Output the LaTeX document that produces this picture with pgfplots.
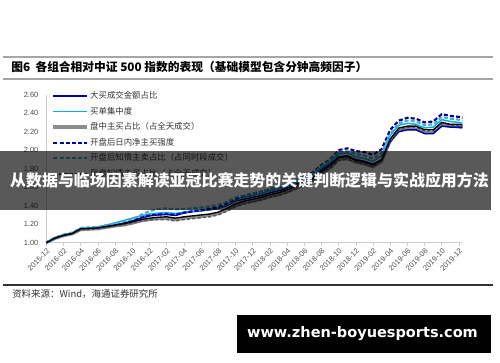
\documentclass[border=0pt]{standalone}
\usepackage{fontspec}
\setmainfont{Liberation Sans}
\newfontfamily\cjk{Noto Sans CJK SC}
\usepackage{pgfplots}
\usepackage{pgfplotstable}
\pgfplotsset{compat=1.18}
\definecolor{navy}{RGB}{0,0,160}
\definecolor{cyanl}{RGB}{0,176,240}
\definecolor{grayt}{RGB}{140,140,140}
\definecolor{teal2}{RGB}{75,172,198}
\definecolor{grayd}{RGB}{89,89,89}
\pgfplotstableread{
m B N C G D T K
0 1.00 1.00 1.00 1.00 1.00 1.00 1.00
1 1.05 1.05 1.055 1.045 1.055 1.055 1.045
2 1.08 1.08 1.085 1.075 1.085 1.085 1.075
3 1.10 1.10 1.105 1.095 1.105 1.11 1.095
4 1.15 1.15 1.155 1.14 1.155 1.16 1.14
5 1.155 1.155 1.16 1.145 1.16 1.165 1.145
6 1.16 1.16 1.17 1.15 1.165 1.17 1.15
7 1.175 1.175 1.19 1.165 1.18 1.19 1.165
8 1.19 1.19 1.215 1.18 1.195 1.21 1.18
9 1.205 1.21 1.24 1.19 1.215 1.23 1.19
10 1.225 1.235 1.265 1.21 1.24 1.255 1.21
11 1.25 1.265 1.29 1.235 1.27 1.30 1.235
12 1.265 1.29 1.31 1.25 1.295 1.34 1.245
13 1.275 1.30 1.32 1.26 1.305 1.365 1.25
14 1.28 1.305 1.325 1.265 1.31 1.37 1.25
15 1.265 1.295 1.315 1.25 1.30 1.36 1.235
16 1.28 1.32 1.33 1.265 1.325 1.365 1.25
17 1.29 1.335 1.34 1.275 1.34 1.37 1.26
18 1.30 1.345 1.35 1.285 1.35 1.38 1.27
19 1.31 1.355 1.36 1.295 1.365 1.39 1.28
20 1.33 1.37 1.375 1.315 1.385 1.41 1.30
21 1.37 1.40 1.41 1.355 1.425 1.44 1.34
22 1.42 1.45 1.46 1.40 1.475 1.49 1.39
23 1.45 1.47 1.49 1.43 1.505 1.51 1.42
24 1.47 1.49 1.51 1.45 1.53 1.53 1.44
25 1.49 1.51 1.53 1.47 1.55 1.55 1.46
26 1.52 1.54 1.56 1.50 1.58 1.58 1.49
27 1.54 1.56 1.58 1.52 1.60 1.60 1.51
28 1.57 1.59 1.61 1.55 1.63 1.63 1.54
29 1.61 1.63 1.65 1.59 1.675 1.67 1.58
30 1.65 1.67 1.69 1.63 1.715 1.71 1.62
31 1.69 1.71 1.73 1.67 1.76 1.75 1.66
32 1.77 1.79 1.81 1.75 1.84 1.83 1.74
33 1.83 1.85 1.87 1.81 1.90 1.89 1.80
34 1.92 1.93 1.96 1.90 2.00 1.98 1.89
35 1.93 1.94 1.97 1.91 2.02 1.99 1.90
36 1.89 1.90 1.93 1.87 1.99 1.96 1.87
37 1.87 1.88 1.91 1.85 1.98 1.94 1.85
38 1.84 1.85 1.88 1.82 1.95 1.91 1.82
39 1.90 1.89 1.94 1.88 2.01 1.97 1.88
40 2.12 2.09 2.16 2.10 2.22 2.18 2.10
41 2.24 2.20 2.27 2.22 2.32 2.29 2.22
42 2.26 2.22 2.29 2.24 2.35 2.32 2.25
43 2.26 2.22 2.28 2.23 2.34 2.31 2.25
44 2.22 2.18 2.24 2.19 2.30 2.27 2.21
45 2.22 2.18 2.25 2.19 2.31 2.28 2.21
46 2.30 2.26 2.33 2.27 2.39 2.36 2.29
47 2.28 2.25 2.31 2.26 2.37 2.34 2.27
48 2.28 2.25 2.30 2.25 2.36 2.33 2.27
48.4 2.27 2.25 2.29 2.24 2.35 2.32 2.26
}\datatable
\begin{document}
\begin{tikzpicture}[x=0.75pt,y=0.75pt]
\useasboundingbox (0,0) rectangle (500,362);
\fill[white] (0,0) rectangle (500,362);
% title rules
\draw[gray!70, line width=0.9pt] (3,305) -- (493,305);
\draw[gray!70, line width=0.9pt] (3,283) -- (493,283);
\node[anchor=west, inner sep=0pt, font=\cjk\bfseries\fontsize{8.8}{10}\selectfont] at (11,294.5) {图6\ \ 各组合相对中证 500 指数的表现（基础模型包含分钟高频因子）};
\begin{axis}[
  at={(54,129)}, anchor=south west,
  scale only axis, width=312pt, height=111pt,
  xmin=0, xmax=48.4, ymin=1.0, ymax=2.6,
  axis x line*=bottom, axis y line*=left,
  axis line style={gray!40, line width=0.6pt},
  ytick={1.0,1.2,1.4,1.6,1.8,2.0,2.2,2.4,2.6},
  y tick label style={/pgf/number format/fixed, /pgf/number format/fixed zerofill, /pgf/number format/precision=2, font=\fontsize{5.6}{6}\selectfont, color=black!70},
  ytick style={draw=none},
  xtick={0,2,...,48},
  xticklabels={2015-12,2016-02,2016-04,2016-06,2016-08,2016-10,2016-12,2017-02,2017-04,2017-06,2017-08,2017-10,2017-12,2018-02,2018-04,2018-06,2018-08,2018-10,2018-12,2019-02,2019-04,2019-06,2019-08,2019-10,2019-12},
  x tick label style={rotate=45, anchor=north east, font=\fontsize{5.6}{6}\selectfont, color=black!70, inner sep=1pt},
  xtick style={gray!40, line width=0.5pt},
  tick align=outside, major tick length=2.5pt,
  /pgf/number format/assume math mode=true,
  legend style={at={(axis description cs:0.012,1.03)}, anchor=north west, draw=none, fill=none,
    font=\cjk\fontsize{6.3}{7}\selectfont, text=black!80, row sep=3.2pt, inner sep=0pt,
    nodes={inner sep=0.8pt}},
  legend cell align=left,
  legend image code/.code={\draw[#1] (0pt,0pt) -- (25.5pt,0pt);},
  clip=false,
]
\addplot[grayt, line width=2.2pt, forget plot] table[x=m, y=G] {\datatable};
\addplot[navy, line width=1.1pt] table[x=m, y=N] {\datatable};
\addlegendentry{大买成交金额占比}
\addplot[cyanl, line width=1.1pt] table[x=m, y=C] {\datatable};
\addlegendentry{买单集中度}
\addlegendimage{grayt, line width=2.6pt}
\addlegendentry{盘中主买占比（占全天成交）}
\addplot[navy, line width=1.6pt, dash pattern=on 3pt off 1.6pt] table[x=m, y=D] {\datatable};
\addlegendentry{开盘后日内净主买强度}
\addplot[teal2, line width=1.6pt, dash pattern=on 3pt off 1.6pt] table[x=m, y=T] {\datatable};
\addlegendentry{开盘后知情主卖占比（占同时段成交）}
\addplot[grayd, line width=1.1pt, dash pattern=on 2.6pt off 1.4pt] table[x=m, y=K] {\datatable};
\addlegendentry{尾盘知情主买占比（占全天成交）}
\addplot[black, line width=1.0pt, forget plot] table[x=m, y=B] {\datatable};
\end{axis}
% banner
\fill[black, opacity=0.65] (0,152) rectangle (491,211);
\node[inner sep=0pt, text=white] at (249.5,181.5) {\resizebox{359pt}{!}{\cjk\bfseries 从数据与临场因素解读亚冠比赛走势的关键判断逻辑与实战应用方法}};
% bottom rule and source
\draw[black!80, line width=0.8pt] (3,77) -- (493,77);
\node[anchor=west, inner sep=0pt, font=\cjk\fontsize{7.1}{8}\selectfont, text=black!80] at (12,68) {资料来源：Wind，海通证券研究所};
% url box
\fill[black] (237,9.3) rectangle (491,47);
\node[inner sep=0pt, text=white] at (362.5,28.5) {\resizebox{173pt}{!}{\fontspec{DejaVu Sans}\bfseries www.zhen-boyuesports.com}};
\end{tikzpicture}
\end{document}
